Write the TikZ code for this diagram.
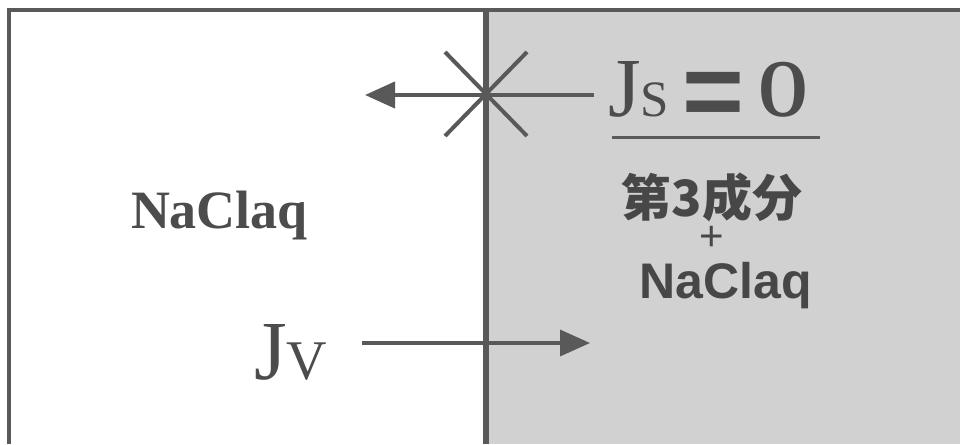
\documentclass[tikz,border=0pt]{standalone}
\usepackage{fontspec}
\setmainfont{Liberation Serif}
\newfontfamily\cjk{Noto Sans CJK JP}
\newfontfamily\sansf{Liberation Sans}
\usetikzlibrary{arrows.meta}
\definecolor{ink}{gray}{0.35}
\definecolor{txt}{gray}{0.3}
\tikzset{
  frameline/.style={draw=ink, line width=4pt},
  membrane/.style={draw=ink, line width=6pt},
  flux/.style={draw=ink, line width=4pt, -{Triangle[length=30pt,width=26pt]}},
  crossline/.style={draw=ink, line width=4pt},
  lbl/.style={inner sep=0pt, outer sep=0pt, text=txt},
}
\begin{document}
\begin{tikzpicture}[x=1pt,y=-1pt]
\useasboundingbox (0,0) rectangle (960,444);
\fill[white] (0,0) rectangle (960,444);
% shaded region
\fill[black!18] (486,10) rectangle (960,444);
% frame
\draw[frameline] (9,444) -- (9,10) -- (960,10);
% membrane
\coordinate (mtop) at (486,8);
\coordinate (mbot) at (486,444);
\draw[membrane] (mtop) -- (mbot);
% crossed mark
\coordinate (c1) at (445,52);
\coordinate (c2) at (527,136);
\coordinate (c3) at (527,52);
\coordinate (c4) at (445,136);
\draw[crossline] (c1) -- (c2);
\draw[crossline] (c3) -- (c4);
% top arrow
\coordinate (jsstart) at (594,95);
\coordinate (jsend) at (365,95);
\draw[flux] (jsstart) -- (jsend);
% Js = O
\node[lbl, anchor=base west] (jsJ) at (608,116) {\fontsize{84}{84}\selectfont J};
\node[lbl, anchor=base west] (jsS) at (jsJ.base east) {\fontsize{51}{51}\selectfont S};
\node[lbl, anchor=center] (jseq) at (713,100) {\sansf\bfseries\fontsize{106}{106}\selectfont =};
\node[lbl, anchor=base west] (jsO) at (758,116) {\fontsize{82}{82}\selectfont\bfseries \scalebox{0.78}[1]{O}};
\coordinate (ul1) at (612,137);
\coordinate (ul2) at (820,137);
\draw[draw=ink, line width=3pt] (ul1) -- (ul2);
% right labels
\node[lbl, anchor=base, text=black!72, text height=38pt, text depth=4pt] (third) at (712,216) {\cjk\bfseries\fontsize{50}{50}\selectfont 第3成分};
\node[lbl, anchor=base, text=black!72, text height=24pt, text depth=0pt] (plus) at (712,250) {\sansf\fontsize{42}{42}\selectfont +};
\node[lbl, anchor=base, text=black!72, text height=37pt, text depth=10pt] (naclr) at (726,298) {\sansf\bfseries\fontsize{50}{50}\selectfont NaClaq};
% left label
\node[lbl, anchor=base west] (nacll) at (131,228) {\bfseries\fontsize{54}{54}\selectfont NaClaq};
% Jv
\node[lbl, anchor=base west] (jvJ) at (254,379) {\fontsize{84}{84}\selectfont J};
\node[lbl, anchor=base west] (jvV) at (jvJ.base east) {\fontsize{56}{56}\selectfont V};
\coordinate (jvstart) at (362,343);
\coordinate (jvend) at (590,343);
\draw[draw=ink, line width=3.5pt, -{Triangle[length=30pt,width=26pt]}] (jvstart) -- (jvend);
\end{tikzpicture}
\end{document}
